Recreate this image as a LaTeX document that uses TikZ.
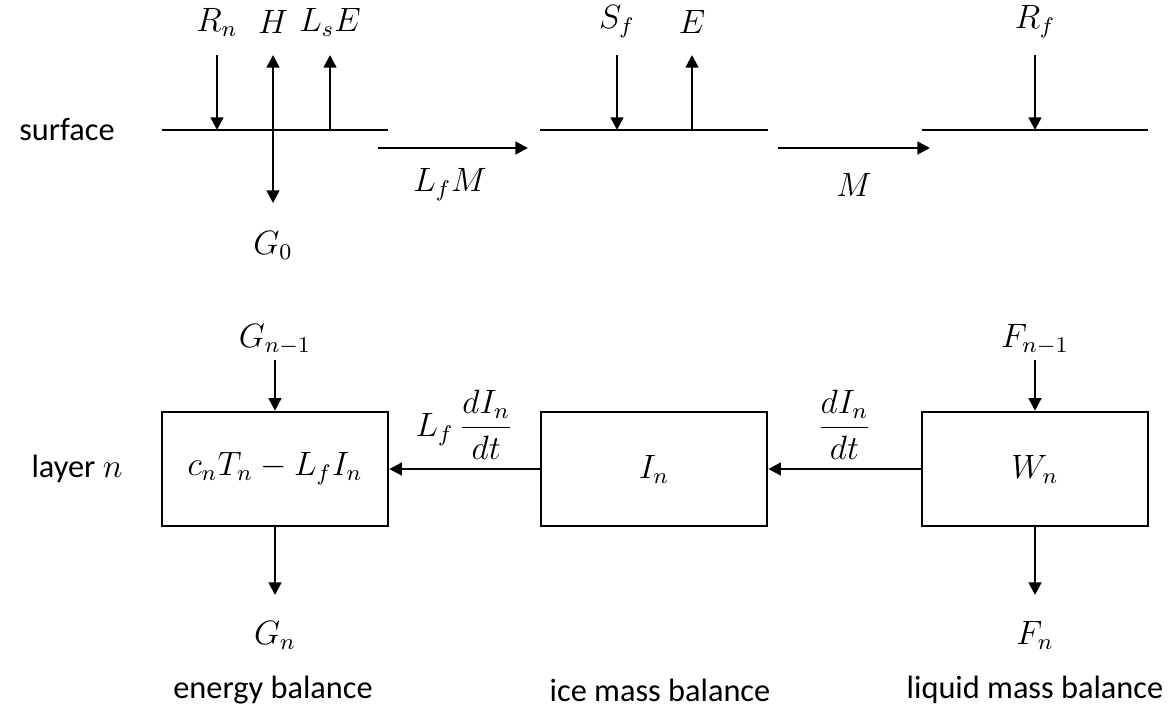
\documentclass[tikz,border=0pt]{standalone}
\usepackage{amsmath}
\usepackage{fontspec}
\setmainfont{Carlito}
\usetikzlibrary{positioning, arrows.meta}
\tikzset{
  flux/.style={-{Triangle[length=4.5pt, width=4.5pt]}, line width=0.9pt},
  surf/.style={line width=0.9pt},
  layerbox/.style={draw, line width=0.9pt, minimum width=2.825cm, minimum height=1.425cm, inner sep=0pt},
  var/.style={inner sep=1pt},
  txt/.style={inner sep=1pt},
}

\begin{document}
\begin{tikzpicture}[font=\fontsize{11.5}{14}\selectfont]
  \useasboundingbox (0,0) rectangle (14.6125,-9);
  % row labels
  \node[txt] (surface) at (0.8375,-1.625) {surface};
  \node[txt] (layer) at (0.9625,-5.8625) {layer $n$};
  % surface lines
  \coordinate (s1a) at (2.025,-1.625);  \coordinate (s1b) at (4.85,-1.625);
  \coordinate (s2a) at (6.75,-1.625);   \coordinate (s2b) at (9.6,-1.625);
  \coordinate (s3a) at (11.525,-1.625); \coordinate (s3b) at (14.35,-1.625);
  \draw[surf] (s1a) -- (s1b);
  \draw[surf] (s2a) -- (s2b);
  \draw[surf] (s3a) -- (s3b);
  % energy balance at surface
  \node[var] (Rn) at (2.7125,-0.275) {$R_n$};
  \node[var] (H) at (3.4125,-0.275) {$H$};
  \node[var] (LsE) at (4.125,-0.275) {$L_sE$};
  \node[var] (G0) at (3.4125,-3.0625) {$G_0$};
  \coordinate (RnT) at (2.7125,-0.6875); \coordinate (RnS) at (2.7125,-1.625);
  \coordinate (HT) at (3.4125,-0.6875);  \coordinate (HS) at (3.4125,-1.625);
  \coordinate (LsET) at (4.125,-0.6875); \coordinate (LsES) at (4.125,-1.625);
  \coordinate (G0B) at (3.4125,-2.5375);
  \draw[flux] (RnT) -- (RnS);
  \draw[flux] (HS) -- (HT);
  \draw[flux] (LsES) -- (LsET);
  \draw[flux] (HS) -- (G0B);
  % ice at surface
  \node[var] (Sf) at (7.7125,-0.275) {$S_f$};
  \node[var] (E) at (8.65,-0.275) {$E$};
  \coordinate (SfT) at (7.7125,-0.6875); \coordinate (SfS) at (7.7125,-1.625);
  \coordinate (ET) at (8.65,-0.6875);    \coordinate (ES) at (8.65,-1.625);
  \draw[flux] (SfT) -- (SfS);
  \draw[flux] (ES) -- (ET);
  % liquid at surface
  \node[var] (Rf) at (12.9375,-0.275) {$R_f$};
  \coordinate (RfT) at (12.9375,-0.6875); \coordinate (RfS) at (12.9375,-1.625);
  \draw[flux] (RfT) -- (RfS);
  % melt fluxes
  \coordinate (LfMa) at (4.725,-1.85); \coordinate (LfMb) at (6.6,-1.85);
  \coordinate (Ma) at (9.725,-1.85);   \coordinate (Mb) at (11.625,-1.85);
  \draw[flux] (LfMa) -- (LfMb);
  \draw[flux] (Ma) -- (Mb);
  \node[var] (LfM) at (5.625,-2.3125) {$L_fM$};
  \node[var] (M) at (10.675,-2.3125) {$M$};
  % layer n
  \node[layerbox] (energy) at (3.4375,-5.8625) {$c_nT_n - L_fI_n$};
  \node[layerbox] (ice) at (8.175,-5.8625) {$I_n$};
  \node[layerbox] (liquid) at (12.9375,-5.8625) {$W_n$};
  \node[var] (Gm) at (3.4375,-4.25) {$G_{n-1}$};
  \node[var] (Gn) at (3.4375,-7.9375) {$G_n$};
  \node[var] (Fm) at (12.9375,-4.25) {$F_{n-1}$};
  \node[var] (Fn) at (12.9375,-7.9375) {$F_n$};
  \coordinate (GmT) at (3.4375,-4.5);   \coordinate (GnB) at (3.4375,-7.4375);
  \coordinate (FmT) at (12.9375,-4.5);  \coordinate (FnB) at (12.9375,-7.4375);
  \draw[flux] (GmT) -- (energy.north);
  \draw[flux] (energy.south) -- (GnB);
  \draw[flux] (FmT) -- (liquid.north);
  \draw[flux] (liquid.south) -- (FnB);
  \draw[flux] (liquid.west) -- node[above=2pt, var] (dIdt) {$\dfrac{dI_n}{dt}$} (ice.east);
  \draw[flux] (ice.west) -- node[above=2pt, var] (LfdIdt) {$L_f\,\dfrac{dI_n}{dt}$} (energy.east);
  % column labels
  \node[txt] (ebal) at (3.4125,-8.625) {energy balance};
  \node[txt] (ibal) at (8.25,-8.625) {ice mass balance};
  \node[txt] (lbal) at (12.9375,-8.625) {liquid mass balance};
\end{tikzpicture}
\end{document}
